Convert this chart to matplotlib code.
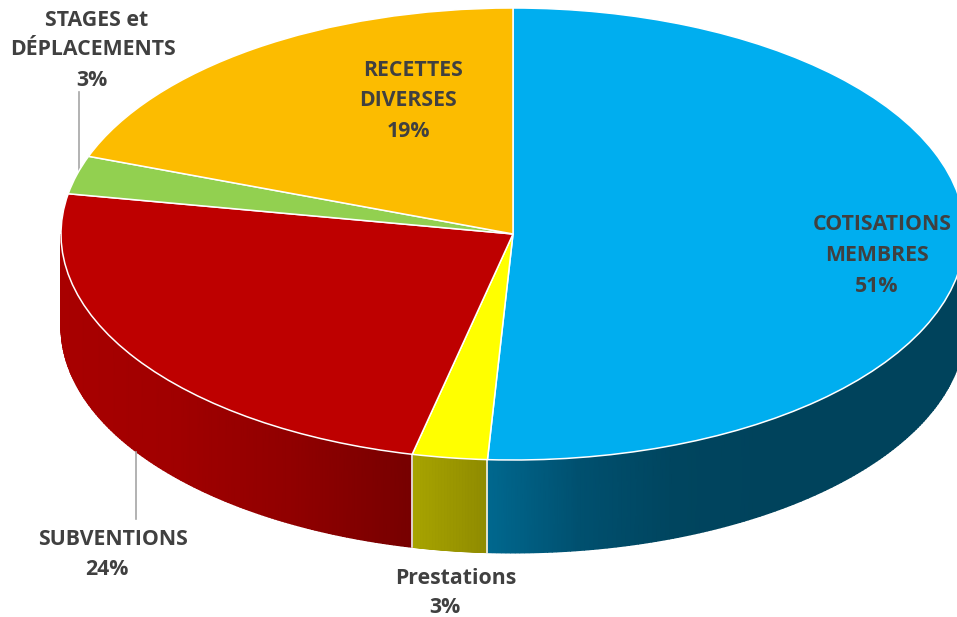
import numpy as np
import matplotlib
matplotlib.use("Agg")
import matplotlib.pyplot as plt
from matplotlib.colors import LinearSegmentedColormap

label_lines = ["COTISATIONS", "MEMBRES", "51%", "Prestations", "3%", "SUBVENTIONS", "24%",
               "STAGES et", "DÉPLACEMENTS", "3%", "RECETTES", "DIVERSES", "19%"]
shares = [50.9, 2.68, 24.27, 2.735, 19.415]
top_colors = ["#00AEEF", "#FFFF00", "#BE0000", "#92D050", "#FCBC00"]

W, H = 957, 617
CX, CY, RX, RY, DEPTH = 513, 234, 452, 226, 93
TXT = "#404040"
plt.rcParams["font.family"] = ["Open Sans", "DejaVu Sans"]

fig = plt.figure(figsize=(W / 100, H / 100), dpi=100, facecolor="white")
ax = fig.add_axes([0, 0, 1, 1])

# Ellipse: one data unit equals RX px horizontally and RY px vertically
def dx(px):
    return (px - CX) / RX
def dy(py):
    return (CY - py) / RY

wall_cmaps = {
    0: ["#00688F", "#00506F", "#00455F", "#00435C"],
    1: ["#A8A400", "#8F8B00"],
    2: ["#A80000", "#A00000", "#900000", "#770000"],
}
bounds = np.cumsum([0] + shares) / 100 * 2 * np.pi
d = DEPTH / RY

# Walls
for i in (0, 1, 2):
    a0, a1 = bounds[i], bounds[i + 1]
    a0 = max(a0, np.pi / 2)
    a1 = min(a1, 1.5 * np.pi)
    th = np.linspace(a0, a1, 160)
    x, y = np.sin(th), np.cos(th)
    X = np.vstack([x, x])
    Y = np.vstack([y, y - d])
    cmap = LinearSegmentedColormap.from_list(f"w{i}", wall_cmaps[i])
    lo, hi = x.min(), x.max()
    if i == 0:
        t = np.clip((x - lo) / 0.62, 0, 1)
    else:
        t = (x - lo) / (hi - lo)
    t = np.vstack([t, t])
    ax.pcolormesh(X, Y, t, cmap=cmap, vmin=0, vmax=1, shading="gouraud", zorder=1, rasterized=True)

# Wall separators
for a in bounds[1:3]:
    ax.plot([np.sin(a)] * 2, [np.cos(a), np.cos(a) - d], color="#F2F2F2", lw=1.2, zorder=2)

# Top face
wedges, _ = ax.pie(shares, colors=top_colors, startangle=90, counterclock=False, radius=1,
                   wedgeprops=dict(edgecolor="white", linewidth=1.1))
for w in wedges:
    w.set_zorder(3)

ax.set_aspect("auto")
ax.set_xlim(dx(0), dx(W))
ax.set_ylim(dy(H), dy(0))
ax.set_axis_off()

# Leader lines
ax.plot([dx(78.5)] * 2, [dy(92), dy(174)], color="#A6A6A6", lw=1.2, zorder=2)
ax.plot([dx(136)] * 2, [dy(452), dy(519)], color="#A6A6A6", lw=1.2, zorder=2)

# Labels, one text per line (the lines of a label are not quite centred on each other)
line_px = [(882, 222), (877, 253), (877, 284), (456, 576), (445, 605), (113, 537), (107, 567),
           (97, 18), (93, 47), (92, 78), (413, 68), (408, 98), (408, 129)]
for s, (px, py) in zip(label_lines, line_px):
    ax.text(dx(px), dy(py), s, ha="center", va="center_baseline", color=TXT,
            fontsize=15.3, fontweight="bold", zorder=5)

fig.savefig("out.png", dpi=100, facecolor="white")
